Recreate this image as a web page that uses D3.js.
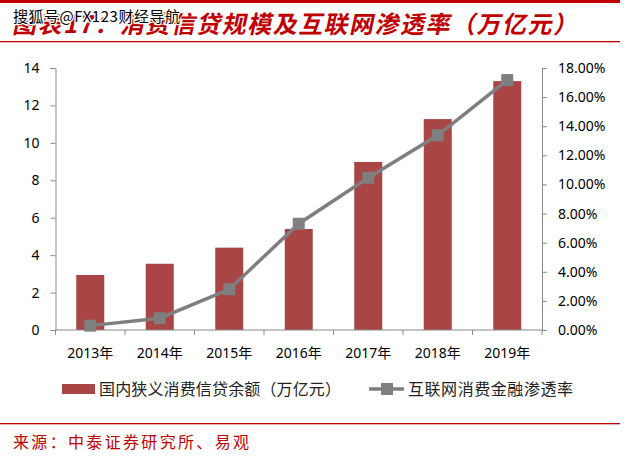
<!DOCTYPE html>
<html lang="zh">
<head>
    <meta charset="utf-8">
    <title>消费信贷规模及互联网渗透率</title>
    <script type="text/javascript" src="https://d3js.org/d3.v7.min.js"></script>
    <style type="text/css">
        body { margin: 0; background: #fff; }
        svg { font-family: "Noto Sans", "Noto Sans CJK SC", sans-serif; }
    </style>
</head>
<body>
<script type="text/javascript">

    var years = ["2013年", "2014年", "2015年", "2016年", "2017年", "2018年", "2019年"];
    var credit = [2.94, 3.54, 4.40, 5.40, 8.98, 11.27, 13.30];          // 万亿元
    var penetration = [0.0030, 0.0081, 0.0280, 0.0730, 0.1046, 0.1338, 0.1717];
    var leftTicks = [0, 2, 4, 6, 8, 10, 12, 14];
    var rightTicks = [0, 0.02, 0.04, 0.06, 0.08, 0.10, 0.12, 0.14, 0.16, 0.18];

    var width = 638, height = 461;
    var red = "#c00000", barColor = "#a94545", lineColor = "#7f7f7f", axisColor = "#898989";

    var svg = d3.select("body").append("svg")
        .attr("width", width)
        .attr("height", height);

    // header bars
    svg.append("rect").attr("x", 0).attr("y", 0).attr("width", 620).attr("height", 3).attr("fill", red);
    svg.append("rect").attr("x", 0).attr("y", 41).attr("width", 620).attr("height", 1.3).attr("fill", red);

    svg.append("text")
        .attr("x", 14).attr("y", 33)
        .attr("transform", "skewX(-12) translate(5,0)")
        .attr("font-family", "Noto Sans CJK SC")
        .attr("font-weight", "bold")
        .attr("font-size", 24)
        .attr("fill", red)
        .attr("textLength", 565)
        .text("图表17：消费信贷规模及互联网渗透率（万亿元）");

    // watermark
    svg.append("text")
        .attr("x", 13).attr("y", 22)
        .attr("font-family", "Noto Sans CJK SC")
        .attr("font-size", 15)
        .attr("fill", "#000")
        .attr("stroke", "#fff")
        .attr("stroke-width", 2.5)
        .attr("paint-order", "stroke")
        .attr("textLength", 167)
        .text("搜狐号@FX123财经导航");

    var x = d3.scaleBand().domain(years).range([55.5, 542]);
    var yL = d3.scaleLinear().domain([0, 14]).range([330, 68]);
    var yR = d3.scaleLinear().domain([0, 0.18]).range([330, 68]);

    // bars
    svg.selectAll(".bar")
        .data(credit)
        .enter().append("rect")
        .attr("class", "bar")
        .attr("x", function(d, i) { return x(years[i]) + x.bandwidth() / 2 - 14; })
        .attr("width", 28)
        .attr("y", function(d) { return yL(d); })
        .attr("height", function(d) { return yL(0) - yL(d); })
        .attr("fill", barColor);

    // axes
    var gl = svg.append("g").attr("transform", "translate(55.5,0)")
        .call(d3.axisLeft(yL).tickValues(leftTicks).tickSize(5).tickPadding(11));
    var gr = svg.append("g").attr("transform", "translate(542,0)")
        .call(d3.axisRight(yR).tickValues(rightTicks).tickSize(5).tickPadding(11)
            .tickFormat(function(d) { return (d * 100).toFixed(2) + "%"; }));
    var xTicks = years.map(function(y) { return x(y); }).concat([542]);
    var gx = svg.append("g").attr("transform", "translate(0,330)");
    gx.append("line").attr("x1", 55.5).attr("x2", 542).attr("stroke", axisColor);
    gx.selectAll(".xt").data(xTicks).enter().append("line")
        .attr("x1", function(d) { return d; }).attr("x2", function(d) { return d; })
        .attr("y1", 0).attr("y2", 5).attr("stroke", axisColor);
    gx.selectAll(".xl").data(years).enter().append("text")
        .attr("x", function(d) { return x(d) + x.bandwidth() / 2; })
        .attr("y", 28)
        .attr("text-anchor", "middle")
        .attr("font-size", 14)
        .attr("fill", "#000")
        .text(function(d) { return d; });

    [gl, gr].forEach(function(g) {
        g.select(".domain").attr("stroke", axisColor);
        g.selectAll(".tick line").attr("stroke", axisColor);
        g.selectAll(".tick text").attr("font-size", 14).attr("fill", "#000")
            .attr("font-family", "Noto Sans");
    });
    gr.selectAll(".tick text").attr("x", 16);

    // line series
    var line = d3.line()
        .x(function(d, i) { return x(years[i]) + x.bandwidth() / 2; })
        .y(function(d) { return yR(d); });
    svg.append("path")
        .datum(penetration)
        .attr("d", line)
        .attr("fill", "none")
        .attr("stroke", lineColor)
        .attr("stroke-width", 3.5);
    svg.selectAll(".mk")
        .data(penetration)
        .enter().append("rect")
        .attr("x", function(d, i) { return x(years[i]) + x.bandwidth() / 2 - 6; })
        .attr("y", function(d) { return yR(d) - 6; })
        .attr("width", 12).attr("height", 12)
        .attr("fill", lineColor);

    // legend
    var lg = svg.append("g");
    lg.append("rect").attr("x", 62).attr("y", 384).attr("width", 33).attr("height", 10).attr("fill", barColor);
    lg.append("text").attr("x", 99).attr("y", 394.5).attr("font-size", 16)
        .attr("font-family", "Noto Sans CJK SC").attr("fill", "#222")
        .attr("textLength", 242)
        .text("国内狭义消费信贷余额（万亿元）");
    lg.append("line").attr("x1", 369).attr("x2", 404).attr("y1", 389).attr("y2", 389)
        .attr("stroke", lineColor).attr("stroke-width", 3.5);
    lg.append("rect").attr("x", 381).attr("y", 383).attr("width", 12).attr("height", 12).attr("fill", lineColor);
    lg.append("text").attr("x", 408).attr("y", 394.5).attr("font-size", 16)
        .attr("font-family", "Noto Sans CJK SC").attr("fill", "#222")
        .attr("textLength", 165)
        .text("互联网消费金融渗透率");

    // source
    svg.append("rect").attr("x", 0).attr("y", 423).attr("width", 620).attr("height", 1.3).attr("fill", red);
    svg.append("text")
        .attr("x", 13).attr("y", 448)
        .attr("font-family", "Noto Sans CJK SC")
        .attr("font-size", 16)
        .attr("fill", red)
        .attr("textLength", 236)
        .text("来源：中泰证券研究所、易观");

</script>
</body>
</html>
